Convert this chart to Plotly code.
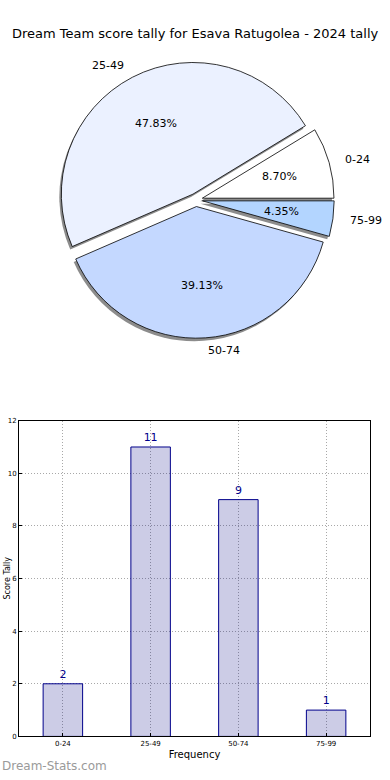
import numpy as np
import plotly.graph_objects as go

# ---- data ----
categories = ["0-24", "25-49", "50-74", "75-99"]
counts = [2, 11, 9, 1]
pie_colors = ["#ffffff", "#ebf1ff", "#c4d8ff", "#b3d5ff"]
y_ticks = [0, 2, 4, 6, 8, 10, 12]

W, H = 390, 780
FONT = "DejaVu Sans"

def px(x):
    return x / W

def py(y):
    return 1 - y / H

vals = np.array(counts, dtype=float)
frac = vals / vals.sum()
# plotly counterclockwise: first slice spans [rotation, rotation + angle] clockwise from top,
# so place its start at 3 o'clock going counterclockwise
rot = 90 - frac[0] * 360

# pie geometry (pixels)
cx, cy, r, pull = 196, 198, 133, 0.05
D = 2 * r * (1 + pull)

fig = go.Figure()

# shadow pie
sdx, sdy = -2, 3
fig.add_trace(go.Pie(
    labels=categories, values=counts, sort=False, direction="counterclockwise",
    rotation=rot, pull=pull, textinfo="none", hoverinfo="skip", showlegend=False,
    marker=dict(colors=["#8c8c8c"] * 4, line=dict(width=0)),
    domain=dict(x=[px(cx + sdx - D / 2), px(cx + sdx + D / 2)],
                y=[py(cy + sdy + D / 2), py(cy + sdy - D / 2)]),
))

# main pie
fig.add_trace(go.Pie(
    labels=categories, values=counts, sort=False, direction="counterclockwise",
    rotation=rot, pull=pull, textinfo="none", hoverinfo="skip", showlegend=False,
    marker=dict(colors=pie_colors, line=dict(color="black", width=0.8)),
    domain=dict(x=[px(cx - D / 2), px(cx + D / 2)],
                y=[py(cy + D / 2), py(cy - D / 2)]),
))

annotations = []
start = np.concatenate([[0], np.cumsum(frac)[:-1]])
mid = np.deg2rad((start + frac / 2) * 360)
for lab, f, a in zip(categories, frac, mid):
    ux, uy = np.cos(a), np.sin(a)
    d = pull + 0.6
    annotations.append(dict(
        x=px(cx + d * r * ux), y=py(cy - d * r * uy), xref="paper", yref="paper",
        text=f"{f*100:.2f}%", showarrow=False, xanchor="center", yanchor="middle",
        font=dict(family=FONT, size=11, color="black")))
    d = pull + 1.1
    annotations.append(dict(
        x=px(cx + d * r * ux), y=py(cy - d * r * uy), xref="paper", yref="paper",
        text=lab, showarrow=False, xanchor="left" if ux > 0 else "right",
        yanchor="middle", font=dict(family=FONT, size=11, color="black")))

# bar chart
fig.add_trace(go.Bar(
    x=categories, y=counts, width=0.45,
    marker=dict(color="rgba(0,0,128,0.2)", line=dict(color="#00008b", width=1)),
    text=[str(c) for c in counts], textposition="outside", cliponaxis=False,
    textfont=dict(family=FONT, size=11, color="#00008b"),
    hoverinfo="skip", showlegend=False,
))

annotations.append(dict(
    x=px(1), y=py(580), xref="paper", yref="paper", text="Score Tally",
    textangle=-90, showarrow=False, xanchor="left", yanchor="middle",
    font=dict(family=FONT, size=8, color="black")))

annotations.append(dict(
    x=0, y=py(770), xref="paper", yref="paper", text="Dream-Stats.com",
    showarrow=False, xanchor="left", yanchor="middle",
    font=dict(family=FONT, size=12, color="#9a9a9a")))

annotations.append(dict(
    x=px(195), y=py(30), xref="paper", yref="paper",
    text="Dream Team score tally for Esava Ratugolea - 2024 tally",
    showarrow=False, xanchor="center", yanchor="middle",
    font=dict(family=FONT, size=13, color="black")))

grid = dict(showgrid=True, gridcolor="#a8a8a8", griddash="1px,2px", gridwidth=1)

fig.update_layout(
    width=W, height=H, margin=dict(l=0, r=0, t=0, b=0),
    paper_bgcolor="white", plot_bgcolor="white",
    annotations=annotations,
    xaxis=dict(domain=[px(19), px(370)], range=[-0.5, 3.5], type="category",
               showline=True, linecolor="black", linewidth=1, mirror=True,
               ticks="inside", ticklen=3, tickcolor="black",
               tickfont=dict(family=FONT, size=7, color="black"),
               title=dict(text="Frequency", standoff=4,
                          font=dict(family=FONT, size=10, color="black")),
               fixedrange=True, **grid),
    yaxis=dict(domain=[py(740), py(421)], range=[0, 12], tickvals=y_ticks,
               showline=True, linecolor="black", linewidth=1, mirror=True,
               ticks="inside", ticklen=3, tickcolor="black",
               zeroline=False,
               tickfont=dict(family=FONT, size=7, color="black"),
               fixedrange=True, **grid),
    font=dict(family=FONT),
)

fig.write_html("out.html", config={"displayModeBar": False},
               post_script="document.body.style.margin='0px';document.body.style.overflow='hidden';")
